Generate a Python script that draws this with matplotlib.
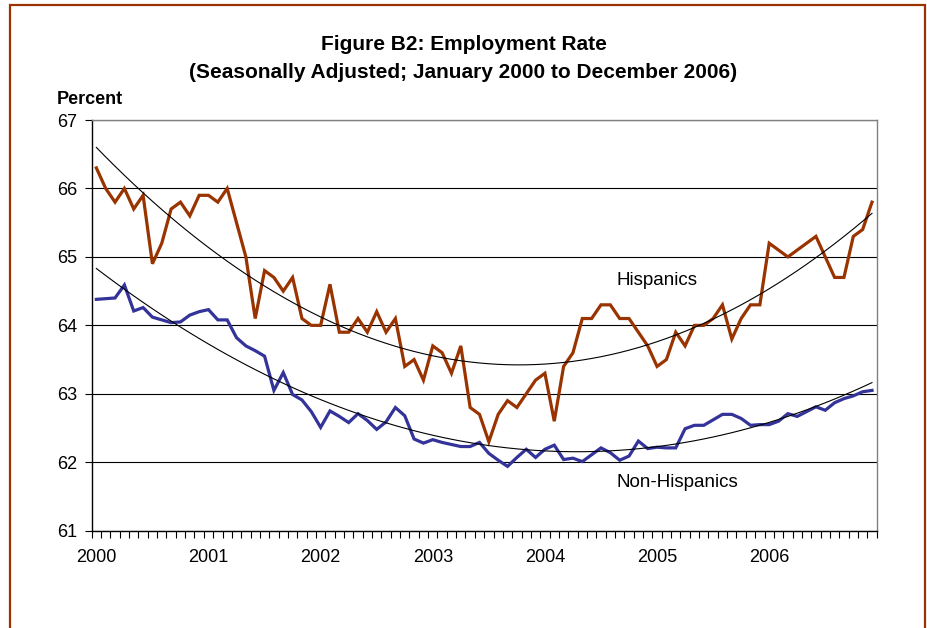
import numpy as np
import matplotlib
matplotlib.use("Agg")
import matplotlib.pyplot as plt
from matplotlib.patches import Rectangle

plt.rcParams['font.family'] = ['Liberation Sans', 'DejaVu Sans']

# Monthly employment rate, Jan 2000 - Dec 2006 (84 months)
hispanics = [
    66.3, 66.0, 65.8, 66.0, 65.7, 65.9, 64.9, 65.2, 65.7, 65.8, 65.6, 65.9,
    65.9, 65.8, 66.0, 65.5, 65.0, 64.1, 64.8, 64.7, 64.5, 64.7, 64.1, 64.0,
    64.0, 64.6, 63.9, 63.9, 64.1, 63.9, 64.2, 63.9, 64.1, 63.4, 63.5, 63.2,
    63.7, 63.6, 63.3, 63.7, 62.8, 62.7, 62.3, 62.7, 62.9, 62.8, 63.0, 63.2,
    63.3, 62.6, 63.4, 63.6, 64.1, 64.1, 64.3, 64.3, 64.1, 64.1, 63.9, 63.7,
    63.4, 63.5, 63.9, 63.7, 64.0, 64.0, 64.1, 64.3, 63.8, 64.1, 64.3, 64.3,
    65.2, 65.1, 65.0, 65.1, 65.2, 65.3, 65.0, 64.7, 64.7, 65.3, 65.4, 65.8,
]
non_hispanics = [
    64.38, 64.39, 64.40, 64.59, 64.21, 64.26, 64.12, 64.08, 64.04, 64.05, 64.15, 64.20,
    64.23, 64.08, 64.08, 63.82, 63.70, 63.63, 63.55, 63.05, 63.31, 62.99, 62.91, 62.74,
    62.51, 62.75, 62.67, 62.58, 62.71, 62.61, 62.48, 62.59, 62.80, 62.68, 62.34, 62.28,
    62.33, 62.29, 62.26, 62.23, 62.23, 62.29, 62.13, 62.03, 61.94, 62.07, 62.19, 62.07,
    62.19, 62.25, 62.04, 62.06, 62.01, 62.11, 62.21, 62.14, 62.03, 62.09, 62.31, 62.20,
    62.22, 62.21, 62.21, 62.49, 62.54, 62.54, 62.62, 62.70, 62.70, 62.64, 62.54, 62.55,
    62.55, 62.60, 62.71, 62.67, 62.74, 62.81, 62.76, 62.87, 62.93, 62.97, 63.03, 63.05,
]
years = ['2000', '2001', '2002', '2003', '2004', '2005', '2006']

hisp_color = '#993300'
nonhisp_color = '#333399'

months = np.arange(len(hispanics))

fig = plt.figure(figsize=(9.27, 6.28), dpi=100)
ax = fig.add_axes([0.0989, 0.1549, 0.8468, 0.654])

# frame around the whole figure (open at the bottom, like the original)
fig.patches.append(Rectangle((10 / 927, -0.05), 915 / 927, 1.05 - 5 / 628,
                             transform=fig.transFigure, fill=False,
                             edgecolor=hisp_color, linewidth=1.6))

ax.plot(months, hispanics, color=hisp_color, lw=2.3, solid_joinstyle='miter', zorder=3)
ax.plot(months, non_hispanics, color=nonhisp_color, lw=2.3, solid_joinstyle='miter', zorder=3)

# quadratic trend lines
for series in (hispanics, non_hispanics):
    coef = np.polyfit(months, series, 2)
    ax.plot(months, np.polyval(coef, months), color='black', lw=0.8, zorder=4)

ax.set_xlim(-0.5, len(months) - 0.5)
ax.set_ylim(61, 67)
ax.set_yticks(range(61, 68))
ax.yaxis.grid(True, color='black', lw=0.8)
ax.set_axisbelow(True)

ax.set_xticks(np.arange(0, len(months), 12))
ax.set_xticklabels(years)
ax.set_xticks(np.arange(-0.5, len(months), 1), minor=True)
ax.tick_params(axis='x', which='major', length=0, pad=13, labelsize=13)
ax.tick_params(axis='x', which='minor', length=5, width=0.8, color='black')
ax.tick_params(axis='y', length=5, width=0.8, labelsize=13, pad=5.5)

for side in ('left', 'bottom'):
    ax.spines[side].set_color('black')
    ax.spines[side].set_linewidth(1.0)
for side in ('top', 'right'):
    ax.spines[side].set_color('#808080')
    ax.spines[side].set_linewidth(1.0)

ax.text(55.7, 64.66, 'Hispanics', fontsize=13.5, ha='left', va='center')
ax.text(55.7, 61.71, 'Non-Hispanics', fontsize=13.5, ha='left', va='center')

fig.text(0.5, 1 - 45 / 628, 'Figure B2: Employment Rate', ha='center', va='center',
         fontsize=15, fontweight='bold')
fig.text(0.5, 1 - 72 / 628, '(Seasonally Adjusted; January 2000 to December 2006)',
         ha='center', va='center', fontsize=15, fontweight='bold')
fig.text(57 / 927, 1 - 100 / 628, 'Percent', ha='left', va='center',
         fontsize=13, fontweight='bold')

fig.savefig('out.png', dpi=100)
